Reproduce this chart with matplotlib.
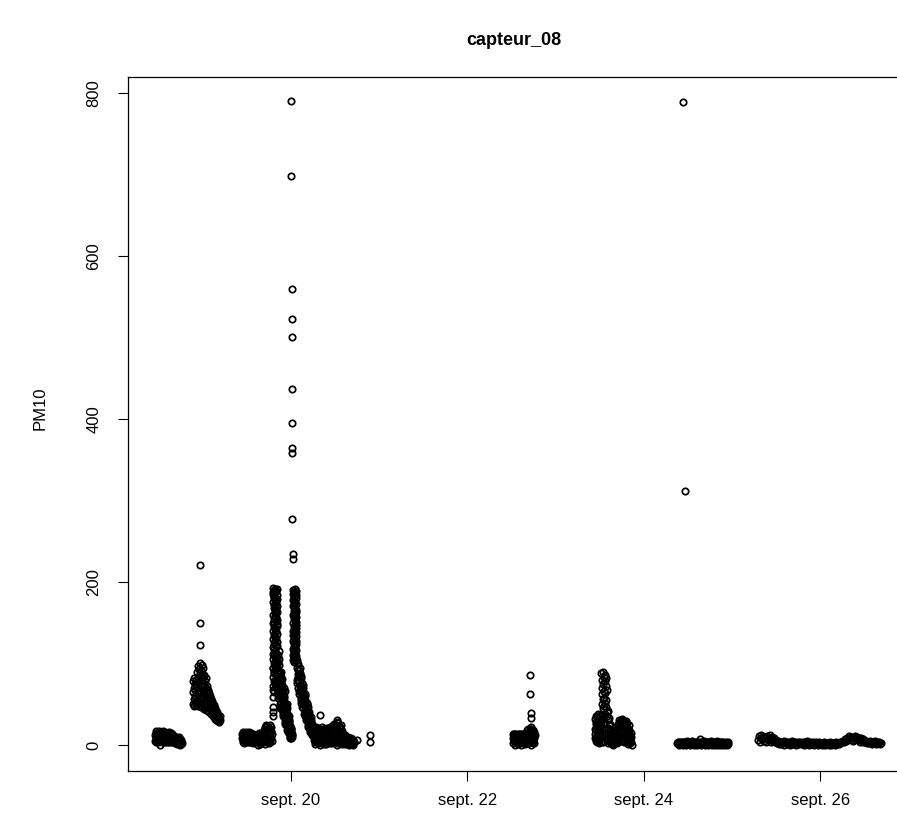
import numpy as np
import pandas as pd
import matplotlib
matplotlib.use("Agg")
import matplotlib.pyplot as plt

plt.rcParams['font.family'] = ['Liberation Sans', 'DejaVu Sans']

# PM10 runs of capteur_08 : start time, sampling step, readings
run1_start, run1_step = "2021-09-18 11:00", "5min"
run1 = [12, 5, 15, 8, 17, 3, 11, 14, 6, 16, 9, 4, 13, 17, 7, 10, 0, 15, 5, 12,
        16, 8, 3, 14, 11, 6, 17, 9, 13, 4, 15, 7, 10, 16, 5, 12, 3, 14, 8, 11,
        15, 6, 13, 9, 4, 16, 10, 7, 14, 3, 12, 15, 5, 11, 8, 13, 4, 14, 9, 6,
        10, 3, 8, 11, 5, 9, 2, 7, 10, 4, 8, 6, 1, 9, 5, 7, 3, 10, 6, 2,
        8, 0, 5, 7, 1, 4, 6, 2]

run2_start, run2_step = "2021-09-18 21:20", "4min"
run2 = [65, 50, 78, 56, 70, 48, 82, 60, 53, 75, 67, 49, 80, 58, 72, 52, 77,
        90, 55, 68, 97, 48, 84, 62, 93, 51, 76, 88, 58,
        100, 64, 47, 92, 72, 55, 98, 80, 46, 86, 60, 95, 68,
        84, 50, 74, 44, 86, 63, 56, 78, 46, 69, 82, 53,
        70, 43, 62, 72, 50, 66, 42, 58, 68, 47, 64, 55,
        58, 40, 52, 60, 45, 55, 38, 50, 57, 43, 48, 54, 41,
        48, 36, 44, 50, 39, 46, 34, 42, 49, 37, 45, 40,
        41, 32, 38, 30, 42, 35, 39, 31, 36, 40, 33, 37,
        34, 29, 32, 36, 28, 33, 30, 35]

run3_start, run3_step = "2021-09-19 10:40", "5min"
run3 = [8, 14, 4, 11, 16, 6, 12, 2, 15, 9, 13, 5, 10, 16, 7, 3, 14, 11, 6, 15,
        9, 12, 4, 16, 8, 13, 3, 10, 14, 6, 11, 15, 5, 9, 12, 2, 13, 7, 10, 4, 8]

run4_start, run4_step = "2021-09-19 15:00", "5min"
run4 = [6, 0, 12, 3, 15, 9, 1, 14, 5, 11, 2, 13, 8, 15, 4, 10, 7, 14, 3, 12,
        18, 5, 22, 10, 1, 16, 24, 8, 20, 3, 13, 23, 6, 19, 11, 2, 21, 15, 7, 24,
        12, 4, 17, 9, 22, 14, 5]

# first peak, evening of the 19th
peak1_start, peak1_step = "2021-09-19 19:00", "1min"
peak1 = [120, 185, 95, 160, 72, 140, 193, 105, 175, 83, 150, 130, 188, 68, 112, 168, 90, 145, 180, 100,
         125, 190, 78, 155, 135, 172, 88, 110, 182, 65, 148, 118, 165, 92, 138, 178, 75, 128, 158, 108,
         186, 98, 143, 170, 80, 133, 191, 115, 162, 70, 152, 123, 177, 86, 103, 167, 140, 189, 94, 131,
         174, 77, 157, 113, 184, 101, 146, 69, 163, 126, 192, 89, 136, 171, 107, 153, 82, 179, 121, 97, 148]

decay1_start, decay1_step = "2021-09-19 20:20", "2min"
decay1 = [95, 62, 110, 70, 88, 58, 102, 76, 66, 115, 82, 60, 98, 72, 106, 64, 90, 78, 59, 85,
          80, 50, 72, 45, 88, 58, 66, 47, 84, 62, 53, 76, 90, 48, 69, 56, 81, 46, 73, 60,
          62, 38, 55, 42, 68, 36, 50, 45, 65, 40, 58, 35, 70, 48, 44, 60, 37, 52, 66, 41,
          40, 28, 46, 32, 37, 26, 43, 30, 49, 35, 25, 44, 31, 48, 27, 39, 34, 45, 29, 50,
          30, 18, 26, 34, 20, 28, 16, 24, 33, 22, 15, 31, 19, 27, 35, 21, 25, 17, 29, 23,
          19, 10, 15, 22, 9, 14, 12, 8, 20, 11, 16, 13, 21, 9, 18, 10, 14, 12]

# burst around midnight
burst_start, burst_step = "2021-09-20 00:06", "2min"
burst = [790, 699, 560, 523, 501, 437, 395, 364, 358, 277, 234, 228]

peak2_start, peak2_step = "2021-09-20 00:30", "1min"
peak2 = [150, 110, 185, 128, 170, 104, 160, 140, 190, 118, 178, 135, 155, 108, 182, 125, 165, 145, 188, 115,
         172, 132, 158, 102, 176, 138, 186, 122, 162, 112, 148, 183, 106, 168, 130, 192, 120, 153, 142, 175,
         113, 187, 137, 160, 105, 180, 127, 166, 147, 117, 189, 134, 157, 109, 173, 144, 184, 124, 163, 139, 151]

decay2_start, decay2_step = "2021-09-20 01:33", "3min"
decay2 = [100, 80, 95, 76, 104, 84, 92, 78, 99, 87,
          70, 92, 62, 85, 66, 78, 94, 68, 88, 74,
          65, 52, 82, 58, 72, 85, 55, 76, 60, 69,
          68, 46, 60, 74, 52, 45, 70, 57, 64, 49,
          58, 38, 50, 62, 42, 36, 55, 46, 60, 40,
          48, 30, 44, 36, 52, 32, 40, 50, 34, 46,
          38, 24, 34, 42, 22, 30, 40, 27, 36, 32,
          28, 18, 32, 22, 26, 16, 34, 20, 30, 24,
          24, 14, 20, 12, 26, 17, 22, 15, 19, 13]

run5_start, run5_step = "2021-09-20 06:10", "5min"
run5 = [18, 6, 14, 3, 20, 10, 1, 16, 8, 22, 5, 12,
        4, 16, 9, 21, 2, 13, 19, 7, 11, 0, 17, 10,
        17, 5, 11, 22, 7, 15, 3, 19, 9, 13, 1, 20,
        3, 19, 9, 13, 1, 18, 6, 21, 11, 4, 15, 8,
        6, 20, 11, 4, 16, 8, 22, 2, 14, 10, 18, 5,
        22, 2, 14, 25, 9, 18, 5, 26, 12, 20, 3, 16,
        5, 24, 12, 28, 0, 20, 8, 27, 15, 2, 22, 11,
        7, 22, 15, 3, 19, 10, 24, 6, 13, 1, 17, 9,
        4, 13, 8, 2, 11, 6, 12, 1, 9, 5, 10, 3,
        9, 3, 7, 1, 10, 5, 8, 2, 6, 0, 7, 4,
        2, 8, 4, 6, 1, 7, 3, 5, 0, 6, 2, 4,
        3]

run6_start, run6_step = "2021-09-22 12:20", "5min"
run6 = [8, 13, 2, 10, 14, 5, 12, 0, 9, 14, 4, 11,
        7, 13, 3, 10, 1, 12, 6, 14, 9, 2, 11, 5,
        13, 8, 0, 12, 4, 10, 14, 6, 3, 11, 7, 13,
        2, 9, 12, 5, 14, 1, 8, 10, 3, 13, 6, 11,
        18, 6, 20, 12, 2, 16, 9, 19, 5, 14, 0, 17, 11, 20, 7, 3, 15, 10, 18, 4,
        13, 8, 16, 2, 12]

run7_start, run7_step = "2021-09-23 10:40", "3min"
run7 = [20, 8, 32, 14, 26, 5, 36, 18, 10, 28, 3, 22, 34, 12, 24,
        6, 38, 16, 30, 9, 35, 19, 2, 27, 13, 33, 7, 21, 37, 11,
        25, 4, 31, 15, 29,
        88, 25, 62, 50, 80, 11, 70, 45, 90, 33, 56, 75, 4, 66, 84, 48, 27, 58, 78, 15,
        52, 86, 38, 64, 47, 82, 20, 72, 55, 8, 68,
        40, 15, 35, 7, 42, 21, 2, 30, 12, 24, 6, 17, 33, 10, 26, 3, 19, 9]

run8_start, run8_step = "2021-09-23 15:00", "5min"
run8 = [8, 3, 12, 1, 10, 5, 14, 0, 9, 6, 13, 2,
        14, 6, 18, 9, 22, 4, 16, 11, 20, 2, 17, 7,
        26, 12, 20, 30, 8, 24, 15, 28, 5, 22, 31, 10,
        32, 15, 28, 6, 31, 18, 25, 3, 29, 12, 21, 27,
        25, 10, 29, 3, 22, 14, 27, 7, 19, 1, 24, 12,
        18, 5, 12, 2, 9, 15, 4, 10, 0]

run9_start, run9_step = "2021-09-24 09:00", "10min"
run9 = [2, 4, 1, 3, 0, 2, 4, 1, 3, 2, 0, 3,
        1, 4, 2, 0, 3, 5, 1, 2, 4, 0, 3, 1,
        2, 5, 1, 3, 0, 4, 2, 1, 3, 0, 2, 4,
        1, 3, 7, 2, 0, 4, 1, 3, 2, 5, 0, 2,
        3, 1, 4, 0, 2, 3, 1, 5, 2, 0, 4, 1,
        2, 3, 0, 4, 1, 2, 5, 0, 3, 1, 2, 4,
        0, 2, 3, 1, 4, 0, 2, 1, 3, 0, 2, 1,
        3]

run10_start, run10_step = "2021-09-25 07:00", "15min"
run10 = [6, 11, 4, 9, 12, 7, 10, 5,
         8, 3, 11, 6, 9, 12, 4, 10,
         7, 5, 9, 3, 6, 2, 5, 1,
         3, 1, 4, 2, 5, 0, 3, 2,
         4, 1, 3, 0, 2, 5, 1, 3,
         2, 4, 0, 2, 3, 1, 4, 2,
         1, 3, 0, 4, 2, 1, 5, 2,
         0, 3, 1, 2, 4, 0, 2, 3,
         1, 2, 0, 3, 1, 2, 0, 1,
         3, 0, 2, 1, 2, 0, 1, 3,
         0, 2, 1, 2, 0, 3, 1, 2,
         1, 3, 2, 4, 3, 5, 4, 7,
         5, 9, 6, 11, 8, 10, 6, 9,
         5, 8, 11, 7, 10, 6, 9, 4,
         8, 5, 7, 4, 6, 3, 5, 2,
         4, 2, 5, 3, 1, 4, 2, 3,
         5, 1, 3, 2, 4, 1, 2]

# isolated readings
single_times = ["2021-09-18 23:10", "2021-09-18 23:15", "2021-09-18 23:20",
                "2021-09-19 19:04", "2021-09-19 19:06", "2021-09-19 19:08",
                "2021-09-19 19:10", "2021-09-19 19:12",
                "2021-09-20 07:55", "2021-09-20 12:25", "2021-09-20 17:55",
                "2021-09-20 21:30", "2021-09-20 21:35",
                "2021-09-22 17:02", "2021-09-22 17:06", "2021-09-22 17:10",
                "2021-09-22 17:14", "2021-09-22 17:18",
                "2021-09-24 10:40", "2021-09-24 11:10"]
single_values = [221, 150, 123,
                 94, 59, 47, 41, 35,
                 37, 31, 6, 12, 3,
                 86, 63, 39, 33, 22,
                 789, 312]

tick_dates = ["2021-09-20", "2021-09-22", "2021-09-24", "2021-09-26"]
tick_labels = ["sept. 20", "sept. 22", "sept. 24", "sept. 26"]
y_ticks = [0, 200, 400, 600, 800]

runs = [(run1_start, run1_step, run1), (run2_start, run2_step, run2),
        (run3_start, run3_step, run3), (run4_start, run4_step, run4),
        (peak1_start, peak1_step, peak1), (decay1_start, decay1_step, decay1),
        (burst_start, burst_step, burst), (peak2_start, peak2_step, peak2),
        (decay2_start, decay2_step, decay2), (run5_start, run5_step, run5),
        (run6_start, run6_step, run6), (run7_start, run7_step, run7),
        (run8_start, run8_step, run8), (run9_start, run9_step, run9),
        (run10_start, run10_step, run10)]

frames = []
for start, step, vals in runs:
    t = pd.date_range(start, periods=len(vals), freq=step)
    frames.append(pd.DataFrame({"date": t, "PM10": vals}))
frames.append(pd.DataFrame({"date": pd.to_datetime(single_times), "PM10": single_values}))
df = pd.concat(frames, ignore_index=True)

fig = plt.figure(figsize=(8.97, 8.32), dpi=100)
ax = fig.add_axes([128/897, 61/832, (899-128)/897, 694/832])

ax.plot(df["date"], df["PM10"], linestyle="none", marker="o", ms=4.6,
        mfc="none", mec="black", mew=1.25)

ax.set_xlim(pd.Timestamp("2021-09-18 03:40"), pd.Timestamp("2021-09-26 21:25"))
ax.set_ylim(-32, 820)

ax.set_xticks(pd.to_datetime(tick_dates))
ax.set_xticklabels(tick_labels)
ax.set_yticks(y_ticks)
ax.set_yticklabels([str(v) for v in y_ticks], rotation=90, va="center")
ax.tick_params(axis="x", length=7, width=0.8, pad=9, labelsize=12)
ax.tick_params(axis="y", length=7, width=0.8, pad=12, labelsize=12)
for s in ax.spines.values():
    s.set_linewidth(0.9)

ax.set_ylabel("PM10", fontsize=12)
ax.yaxis.set_label_coords(-0.104, 0.522)
ax.set_title("capteur_08", fontsize=13, fontweight="bold", pad=23)

fig.savefig("out.png", dpi=100)
